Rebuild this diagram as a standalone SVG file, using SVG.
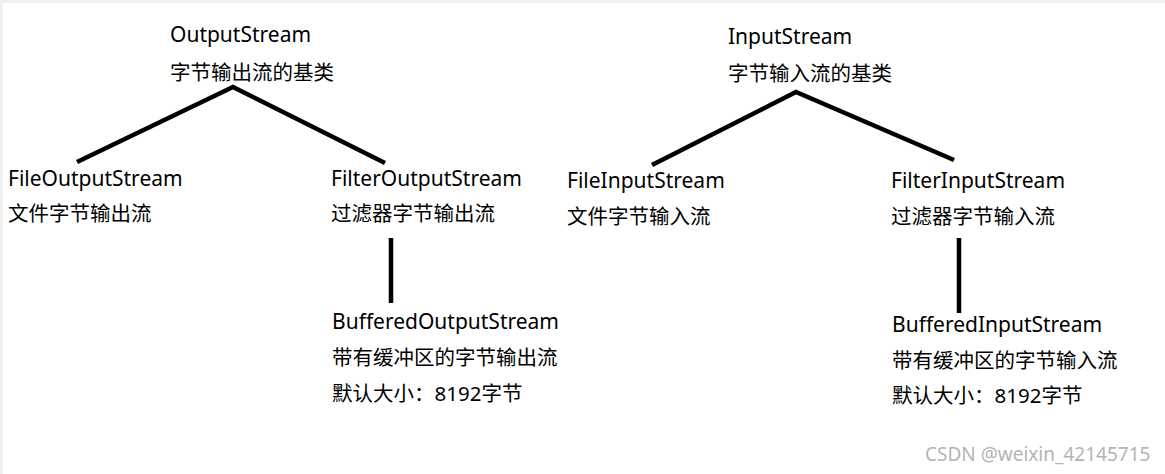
<svg xmlns="http://www.w3.org/2000/svg" width="1165" height="474" viewBox="0 0 1165 474">
<style>
.t{font-family:"Noto Sans","Noto Sans CJK SC",sans-serif;fill:#000}
.l{font-size:21px}
.c{font-size:20.5px}
.e{stroke:#000;stroke-width:4.5;fill:none;stroke-linecap:butt}
</style>
<rect width="1165" height="474" fill="#fff"/>
<rect x="0" y="0" width="1165" height="3" fill="#efefef"/>
<rect x="0" y="0" width="3" height="474" fill="#efefef"/>
<g id="connectors">
<path class="e" d="M77,162 L233,87 L385,163"/>
<path class="e" d="M391,238 L391,303"/>
<path class="e" d="M652,165 L796,92 L954,160"/>
<path class="e" d="M959,238 L959,313"/>
</g>
<g id="OutputStream" class="t"><text class="l" x="170" y="42">OutputStream</text><text class="c" x="170" y="80">字节输出流的基类</text></g>
<g id="FileOutputStream" class="t"><text class="l" x="8" y="186">FileOutputStream</text><text class="c" x="8" y="221">文件字节输出流</text></g>
<g id="FilterOutputStream" class="t"><text class="l" x="331" y="186">FilterOutputStream</text><text class="c" x="331" y="221">过滤器字节输出流</text></g>
<g id="BufferedOutputStream" class="t"><text class="l" x="332" y="329">BufferedOutputStream</text><text class="c" x="332" y="365">带有缓冲区的字节输出流</text><text class="c" x="332" y="401">默认大小：8192字节</text></g>
<g id="InputStream" class="t"><text class="l" x="728" y="44">InputStream</text><text class="c" x="728" y="81">字节输入流的基类</text></g>
<g id="FileInputStream" class="t"><text class="l" x="567" y="188">FileInputStream</text><text class="c" x="567" y="224">文件字节输入流</text></g>
<g id="FilterInputStream" class="t"><text class="l" x="891" y="188">FilterInputStream</text><text class="c" x="891" y="224">过滤器字节输入流</text></g>
<g id="BufferedInputStream" class="t"><text class="l" x="892" y="332">BufferedInputStream</text><text class="c" x="892" y="368">带有缓冲区的字节输入流</text><text class="c" x="892" y="403">默认大小：8192字节</text></g>
<text x="925" y="461" font-family="'Noto Sans',sans-serif" font-size="19" fill="#b4b4b4">CSDN @weixin_42145715</text>
</svg>
